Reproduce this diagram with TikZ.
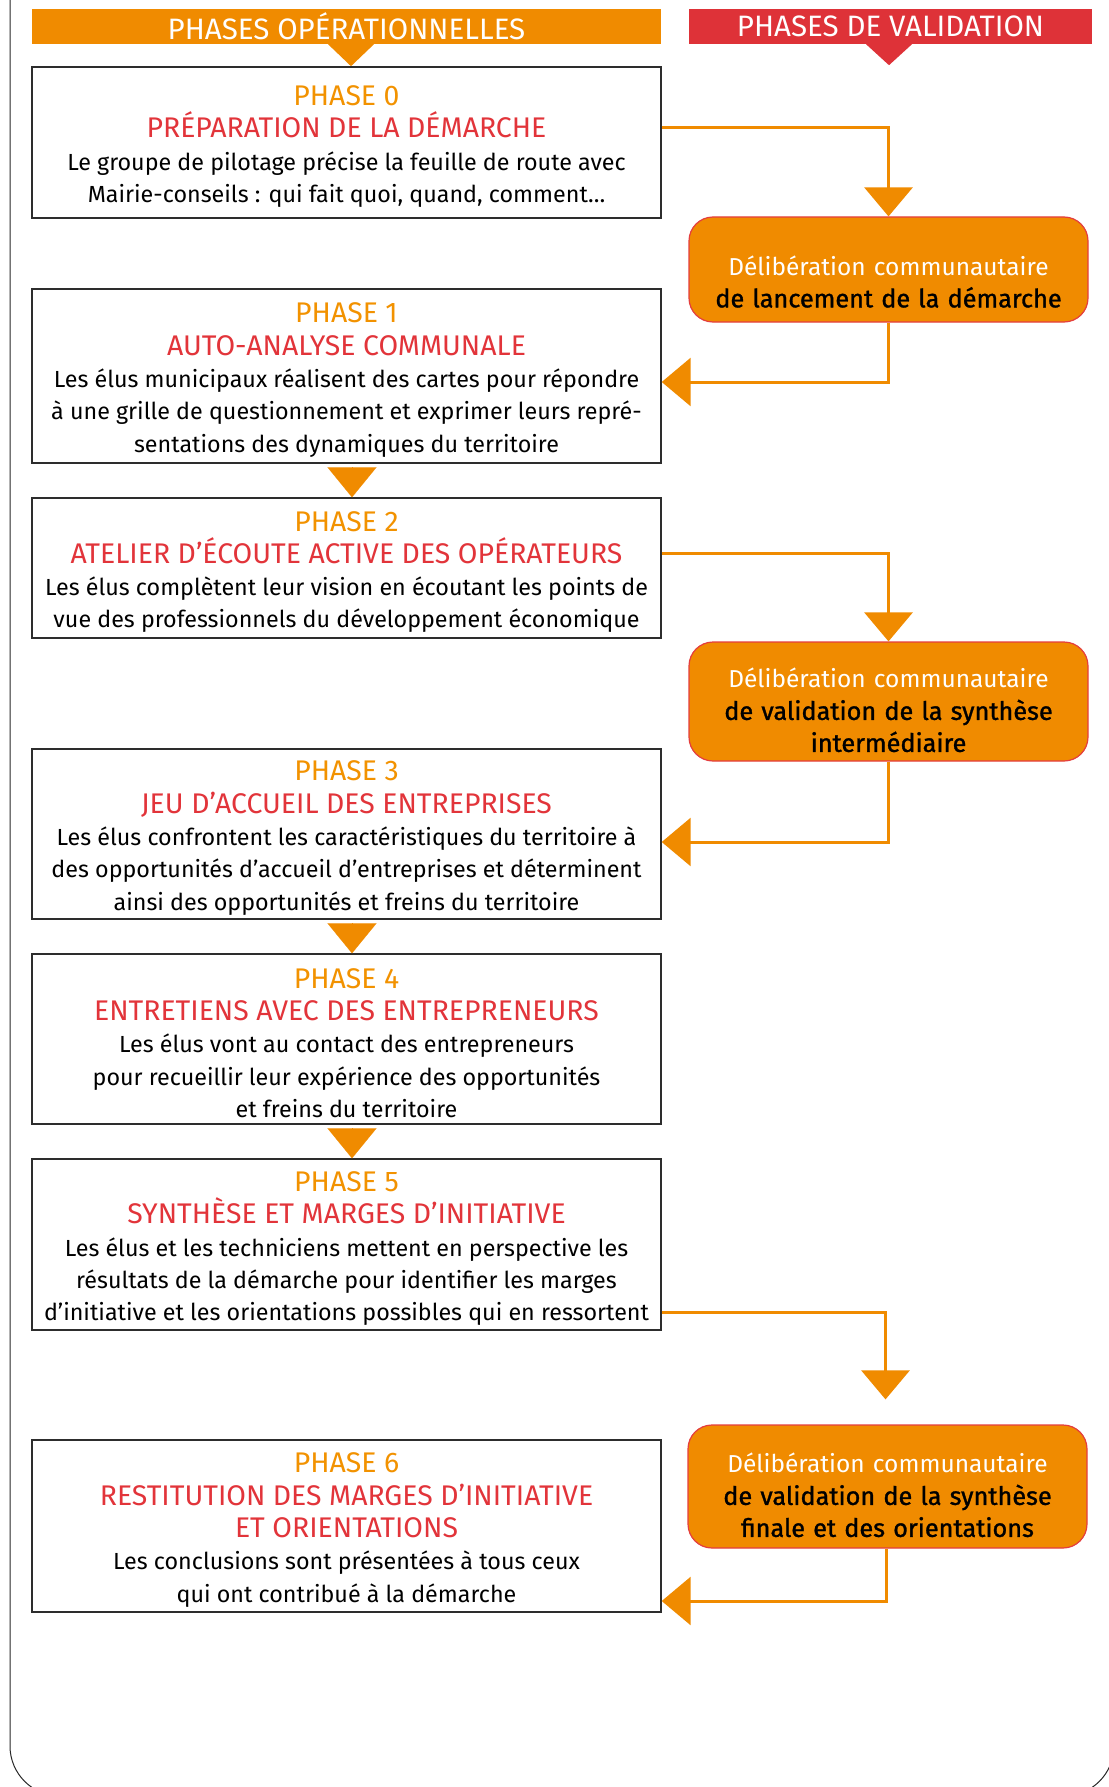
\documentclass[tikz,border=0pt]{standalone}
\usepackage{fontspec}
\setmainfont{Fira Sans}
\newfontfamily\medfont{Fira Sans}[FakeBold=1.2]
\usetikzlibrary{arrows.meta}
\definecolor{cOrange}{RGB}{240,139,0}
\definecolor{cHdrRed}{RGB}{222,50,56}
\definecolor{cTitleRed}{RGB}{226,52,58}
\definecolor{cNum}{RGB}{242,146,0}
\definecolor{cBoxLine}{RGB}{45,45,45}
\definecolor{cDelibLine}{RGB}{228,62,62}
\definecolor{cFrame}{RGB}{40,40,40}
\begin{document}
\begin{tikzpicture}[x=1pt,y=-1pt,
  hdr/.style={minimum width=#1, minimum height=35pt, inner sep=0pt, text=white,
    font=\fontsize{29.5}{32}\selectfont},
  phasebox/.style={draw=cBoxLine, line width=1.4pt, fill=white, minimum width=629pt,
    minimum height=#1, inner sep=0pt, align=center, font=\fontsize{23.3}{32.3}\selectfont},
  delib/.style={draw=cDelibLine, line width=1.2pt, fill=cOrange, rounded corners=24pt,
    minimum width=399pt, text width=399pt, minimum height=#1, inner sep=0pt, align=center,
    font=\fontsize{24.5}{32}\selectfont},
  conn/.style={draw=cOrange, line width=3pt, -{Triangle[length=29pt,width=48pt]}},
  stepper/.style={draw=cOrange, line width=0.1pt, shorten <=4pt, -{Triangle[length=30pt,width=49pt]}},
]
\useasboundingbox (0,0) rectangle (1108,1787);
% outer frame
\draw[cFrame, line width=1pt, rounded corners=50pt] (10,-60) rectangle (1114,1796);

\newcommand{\pnum}[1]{\rule{0pt}{28pt}{\color{cNum}\fontsize{28.4}{32.3}\selectfont #1}}
\newcommand{\ptitle}[1]{{\color{cTitleRed}\fontsize{28.4}{32.3}\selectfont #1}}
\newcommand{\dlight}[2]{\rule{0pt}{#1}{\color{white}#2}}
\newcommand{\dbold}[1]{{\medfont\fontsize{25.3}{32}\selectfont #1}}

% headers
\node[hdr=629pt, fill=cOrange] (h1) at (346.5,26.5) {PHASES OPÉRATIONNELLES};
\node[hdr=403pt, fill=cHdrRed] (h2) at (890.5,26.5) {PHASES DE VALIDATION};
\fill[cOrange] ([xshift=-18.5pt]h1.south) -- ([xshift=27.5pt]h1.south) -- ([xshift=4.5pt,yshift=-22pt]h1.south) -- cycle;
\fill[cHdrRed] ([xshift=-24.5pt]h2.south) -- ([xshift=21.5pt]h2.south) -- ([xshift=-1.5pt,yshift=-21pt]h2.south) -- cycle;

% phase boxes
\node[phasebox=151pt] (p0) at (346.5,142.5) {\pnum{PHASE 0}\\ \ptitle{PRÉPARATION DE LA DÉMARCHE}\\
Le groupe de pilotage précise la feuille de route avec\\ Mairie-conseils : qui fait quoi, quand, comment…};
\node[phasebox=174pt] (p1) at (346.5,376) {\pnum{PHASE 1}\\ \ptitle{AUTO-ANALYSE COMMUNALE}\\
Les élus municipaux réalisent des cartes pour répondre\\ à une grille de questionnement et exprimer leurs repré-\\ sentations des dynamiques du territoire};
\node[phasebox=140pt] (p2) at (346.5,568) {\pnum{PHASE 2}\\ \ptitle{ATELIER D’ÉCOUTE ACTIVE DES OPÉRATEURS}\\
Les élus complètent leur vision en écoutant les points de\\ vue des professionnels du développement économique};
\node[phasebox=170pt] (p3) at (346.5,834) {\pnum{PHASE 3}\\ \ptitle{JEU D’ACCUEIL DES ENTREPRISES}\\
Les élus confrontent les caractéristiques du territoire à\\ des opportunités d’accueil d’entreprises et déterminent\\ ainsi des opportunités et freins du territoire};
\node[phasebox=170pt] (p4) at (346.5,1039) {\pnum{PHASE 4}\\ \ptitle{ENTRETIENS AVEC DES ENTREPRENEURS}\\
Les élus vont au contact des entrepreneurs\\ pour recueillir leur expérience des opportunités\\ et freins du territoire};
\node[phasebox=171pt] (p5) at (346.5,1244.5) {\pnum{PHASE 5}\\ \ptitle{SYNTHÈSE ET MARGES D’INITIATIVE}\\
Les élus et les techniciens mettent en perspective les\\ résultats de la démarche pour identifier les marges\\ d’initiative et les orientations possibles qui en ressortent};
\node[phasebox=172pt] (p6) at (346.5,1526) {\pnum{PHASE 6}\\ \ptitle{RESTITUTION DES MARGES D’INITIATIVE}\\ \ptitle{ET ORIENTATIONS}\\
Les conclusions sont présentées à tous ceux\\ qui ont contribué à la démarche};

% validation boxes
\node[delib=105pt] (d1) at (888.5,269.5) {\dlight{44pt}{Délibération communautaire}\\ \dbold{de lancement de la démarche}};
\node[delib=119pt] (d2) at (888.5,701.5) {\dlight{37pt}{Délibération communautaire}\\ \dbold{de validation de la synthèse}\\ \dbold{intermédiaire}};
\node[delib=123pt] (d3) at (887.5,1486.5) {\dlight{37pt}{Délibération communautaire}\\ \dbold{de validation de la synthèse}\\ \dbold{finale et des orientations}};
\coordinate (c4end) at ([xshift=-2pt,yshift=25pt]d3.north);

% connectors
\draw[conn] ([yshift=14.5pt]p0.east) -| (d1.north);
\draw[conn] (d1.south) |- ([yshift=-6pt]p1.east);
\draw[conn] ([yshift=15pt]p2.east) -| (d2.north);
\draw[conn] (d2.south) |- ([yshift=-8pt]p3.east);
\draw[conn] ([yshift=-67.5pt]p5.east) -| (c4end);
\draw[conn] ([xshift=-1.5pt]d3.south) |- ([yshift=-75pt]p6.east);

\draw[stepper] ([xshift=5.5pt]p1.south) -- ([xshift=5.5pt]p2.north);
\draw[stepper] ([xshift=5.5pt]p3.south) -- ([xshift=5.5pt]p4.north);
\draw[stepper] ([xshift=5.5pt]p4.south) -- ([xshift=5.5pt]p5.north);
\end{tikzpicture}
\end{document}
